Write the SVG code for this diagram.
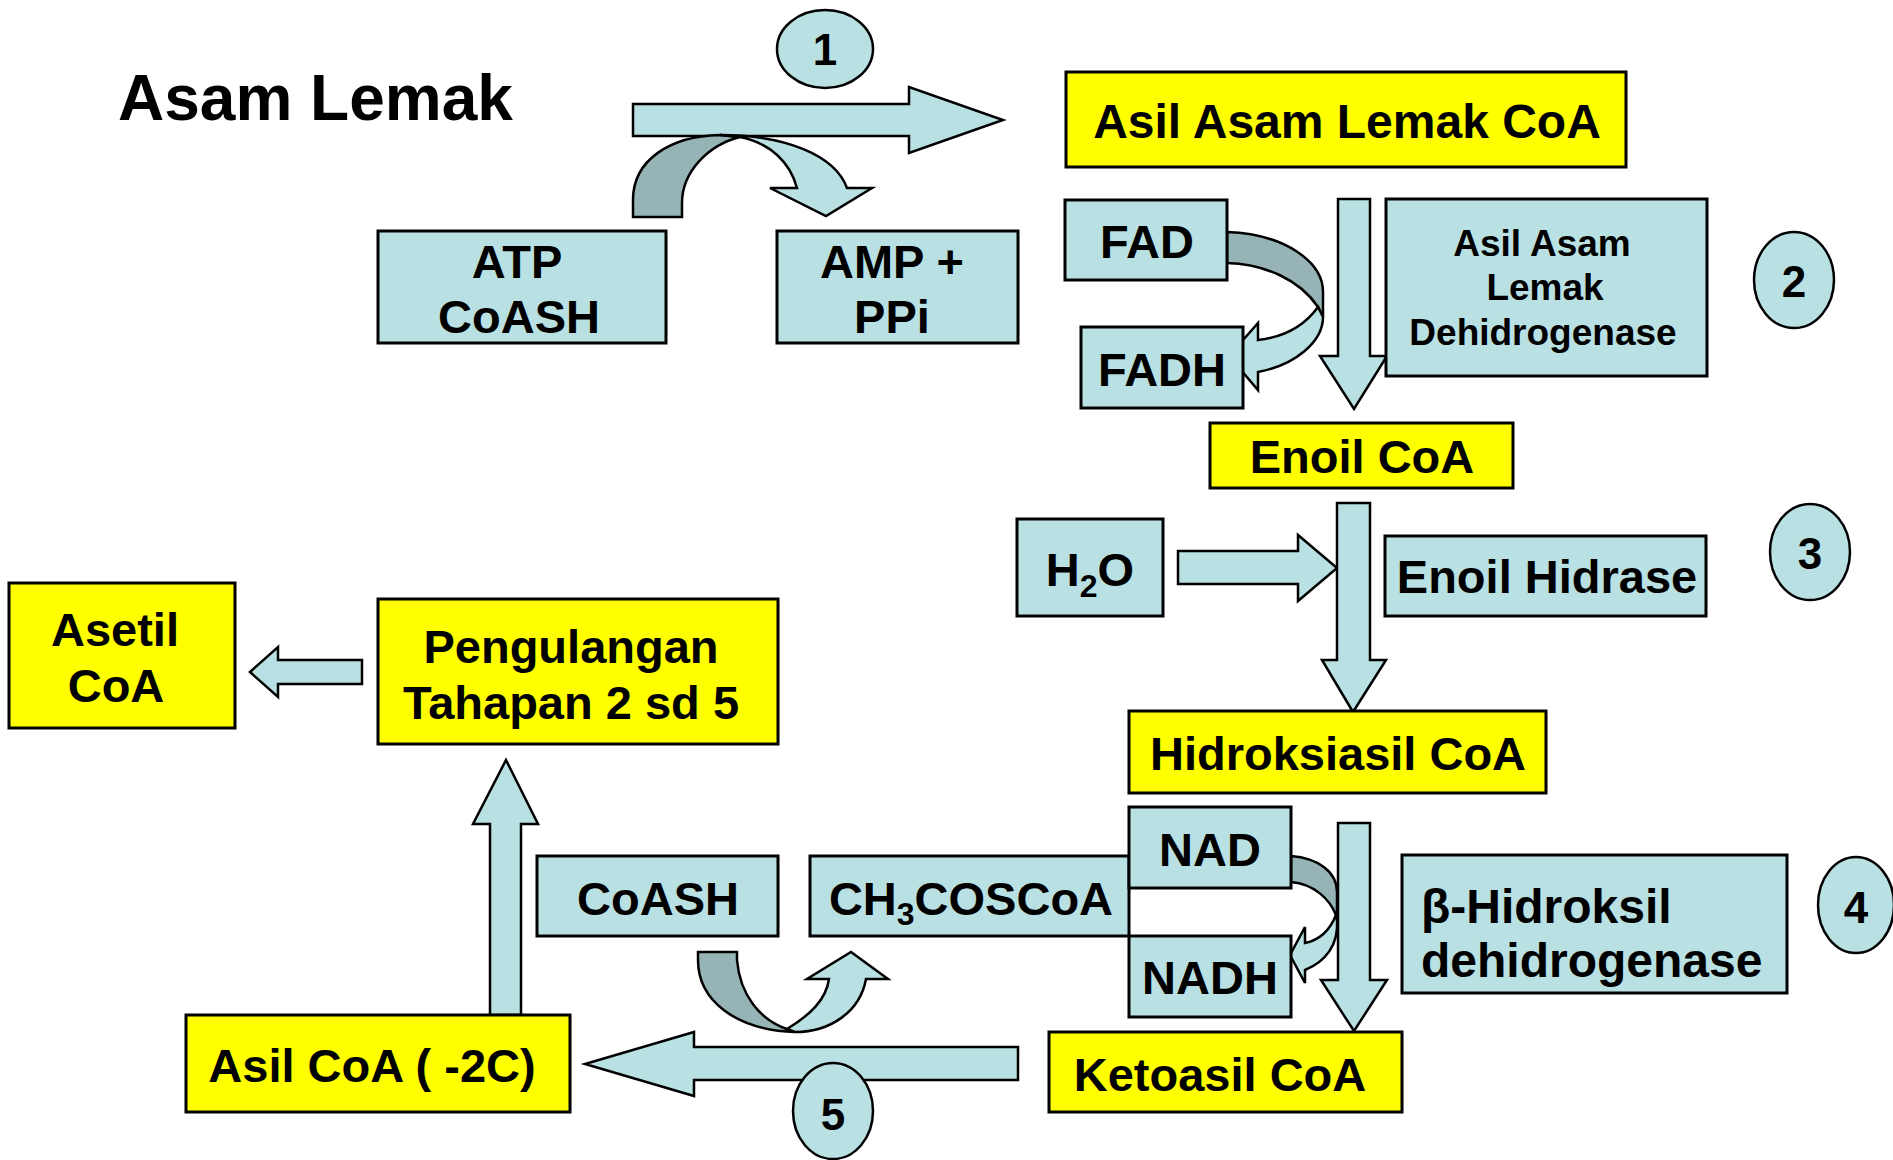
<svg xmlns="http://www.w3.org/2000/svg" width="1893" height="1160" viewBox="0 0 1893 1160">
<style>
.b{fill:#B9E0E3;stroke:#000;stroke-width:3}
.y{fill:#FFFF00;stroke:#000;stroke-width:3}
.a{fill:#B9E0E3;stroke:#000;stroke-width:2.5;stroke-linejoin:miter}
.d{fill:#96B4B6;stroke:#000;stroke-width:2.5;stroke-linejoin:miter}
.c{fill:#B9E0E3;stroke:#000;stroke-width:2.5}
text{font-family:"Liberation Sans",Arial,sans-serif;font-weight:bold;fill:#000}
.t{font-size:47px;text-anchor:middle}
.n{font-size:44px;text-anchor:middle}
.e{font-size:37px;text-anchor:middle}
</style>
<rect width="1893" height="1160" fill="#fff"/>
<g id="connectors">
  <polygon class="a" points="633,104 909,104 909,87 1003,120 909,153 909,136 633,136"/>
  <path class="d" d="M633,217 L633,200 C633,160 670,136 720,135 L740,137 C708,145 682,172 682,203 L682,217 Z"/>
  <path class="a" d="M720,135 C785,135 835,155 847,188 L872,188 L826,216 L770,188 L797,188 C790,162 770,143 740,137 Z"/>
  <polygon class="a" points="1338,199 1370,199 1370,356 1387,356 1354,409 1320,356 1338,356"/>
  <path class="d" d="M1227,232 C1285,234 1323,262 1323,292 L1323,317 L1318,307 C1300,280 1265,264 1227,263 Z"/>
  <path class="a" d="M1318,307 C1305,325 1285,337 1258,340 L1258,323 L1229,356 L1258,390 L1258,372 C1295,365 1323,342 1323,317 Z"/>
  <polygon class="a" points="1178,551 1298,551 1298,535 1337,568 1298,601 1298,584 1178,584"/>
  <polygon class="a" points="1337,503 1370,503 1370,660 1386,660 1353,712 1322,660 1337,660"/>
  <polygon class="a" points="1338,823 1370,823 1370,980 1387,980 1354,1031 1321,980 1338,980"/>
  <path class="d" d="M1291,856 C1318,858 1337,872 1337,892 L1337,920 L1336,915 C1330,900 1315,884 1291,882 Z"/>
  <path class="a" d="M1336,915 C1330,930 1320,940 1305,943 L1305,927 L1290,955 L1305,983 L1305,970 C1325,962 1339,945 1337,920 Z"/>
  <polygon class="a" points="1018,1047 694,1047 694,1032 585,1064 694,1096 694,1080 1018,1080"/>
  <path class="d" d="M698,952 L737,952 L737,960 C740,995 760,1020 787,1029 L795,1032 C735,1030 698,1000 698,960 Z"/>
  <path class="a" d="M787,1029 C810,1015 826,1000 829,979 L807,979 L851,952 L888,979 L866,979 C860,1012 830,1032 795,1032 Z"/>
  <polygon class="a" points="490,1015 490,824 473,824 506,760 538,824 521,824 521,1015"/>
  <polygon class="a" points="362,660 278,660 278,647 250,672 278,697 278,684 362,684"/>
</g>
<text x="118" y="120" style="font-size:64px">Asam Lemak</text>
<g id="n-asilasam"><rect class="y" x="1066" y="72" width="560" height="95"/><text class="t" x="1347" y="138" style="font-size:48px">Asil Asam Lemak CoA</text></g>
<g id="n-atp"><rect class="b" x="378" y="231" width="288" height="112"/><text class="t" x="517" y="278">ATP</text><text class="t" x="519" y="333">CoASH</text></g>
<g id="n-amp"><rect class="b" x="777" y="231" width="241" height="112"/><text class="t" x="892" y="278">AMP +</text><text class="t" x="892" y="333">PPi</text></g>
<g id="n-fad"><rect class="b" x="1065" y="200" width="162" height="80"/><text class="t" x="1147" y="258">FAD</text></g>
<g id="n-fadh"><rect class="b" x="1081" y="327" width="162" height="81"/><text class="t" x="1162" y="386">FADH</text></g>
<g id="n-enz1"><rect class="b" x="1386" y="199" width="321" height="177"/><text class="e" x="1542" y="256">Asil Asam</text><text class="e" x="1545" y="300">Lemak</text><text class="e" x="1543" y="345">Dehidrogenase</text></g>
<g id="n-enoil"><rect class="y" x="1210" y="423" width="303" height="65"/><text class="t" x="1362" y="473">Enoil CoA</text></g>
<g id="n-h2o"><rect class="b" x="1017" y="519" width="146" height="97"/><text class="t" x="1090" y="586">H<tspan style="font-size:32px" dy="11">2</tspan><tspan dy="-11">O</tspan></text></g>
<g id="n-hidrase"><rect class="b" x="1385" y="536" width="321" height="80"/><text class="t" x="1547" y="593">Enoil Hidrase</text></g>
<g id="n-hidroksi"><rect class="y" x="1129" y="711" width="417" height="82"/><text class="t" x="1338" y="770">Hidroksiasil CoA</text></g>
<g id="n-ch3"><rect class="b" x="810" y="856" width="319" height="80"/><text class="t" x="971" y="915">CH<tspan style="font-size:32px" dy="10">3</tspan><tspan dy="-10">COSCoA</tspan></text></g>
<g id="n-nad"><rect class="b" x="1129" y="807" width="162" height="81"/><text class="t" x="1210" y="866">NAD</text></g>
<g id="n-nadh"><rect class="b" x="1129" y="936" width="162" height="81"/><text class="t" x="1210" y="994">NADH</text></g>
<g id="n-coash"><rect class="b" x="537" y="856" width="241" height="80"/><text class="t" x="658" y="915">CoASH</text></g>
<g id="n-bhid"><rect class="b" x="1402" y="855" width="385" height="138"/><text x="1421" y="923" style="font-size:48px">β-Hidroksil</text><text x="1421" y="977" style="font-size:48px">dehidrogenase</text></g>
<g id="n-keto"><rect class="y" x="1049" y="1032" width="353" height="80"/><text class="t" x="1220" y="1091">Ketoasil CoA</text></g>
<g id="n-asil2c"><rect class="y" x="186" y="1015" width="384" height="97"/><text class="t" x="372" y="1082">Asil CoA ( -2C)</text></g>
<g id="n-ulang"><rect class="y" x="378" y="599" width="400" height="145"/><text class="t" x="571" y="663">Pengulangan</text><text class="t" x="571" y="719">Tahapan 2 sd 5</text></g>
<g id="n-asetil"><rect class="y" x="9" y="583" width="226" height="145"/><text class="t" x="115" y="646">Asetil</text><text class="t" x="116" y="702">CoA</text></g>
<g id="n-c1"><ellipse class="c" cx="825" cy="49" rx="48" ry="39"/><text class="n" x="825" y="65">1</text></g>
<g id="n-c2"><ellipse class="c" cx="1794" cy="280" rx="40" ry="48"/><text class="n" x="1794" y="297">2</text></g>
<g id="n-c3"><ellipse class="c" cx="1810" cy="552" rx="40" ry="48"/><text class="n" x="1810" y="569">3</text></g>
<g id="n-c4"><ellipse class="c" cx="1856" cy="905" rx="38" ry="48"/><text class="n" x="1856" y="923">4</text></g>
<g id="n-c5"><ellipse class="c" cx="833" cy="1111" rx="40" ry="48"/><text class="n" x="833" y="1130">5</text></g>
</svg>
